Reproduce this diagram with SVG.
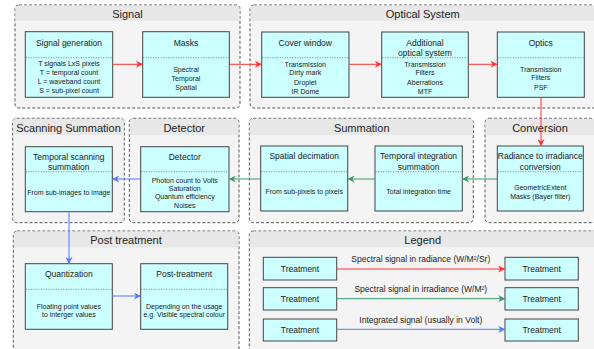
<svg xmlns="http://www.w3.org/2000/svg" width="594" height="349" viewBox="0 0 594 349">
<style>
text{font-family:"Liberation Sans",Arial,sans-serif;fill:#222;text-anchor:middle}
.gt{font-size:11px}
.bt{font-size:8.5px}
.bd{font-size:7px}
.lg{font-size:8.5px}
.grp{fill:#f4f4f4;stroke:#555;stroke-width:1;stroke-dasharray:3,2}
.hdr{fill:#e8e8e8}
.box{fill:#ccffff;stroke:#444;stroke-width:1}
.div{stroke:#666;stroke-width:0.8;stroke-dasharray:1,1.5}
.r{stroke:#ff3333;stroke-width:1;fill:none;marker-end:url(#ar)}
.g{stroke:#3a9a6a;stroke-width:1;fill:none;marker-end:url(#ag)}
.b{stroke:#4d7cff;stroke-width:1;fill:none;marker-end:url(#ab)}
</style>
<defs>
<marker id="ar" viewBox="0 0 10 10" refX="9" refY="5" markerWidth="7" markerHeight="7" markerUnits="userSpaceOnUse" orient="auto"><path d="M0,0 L10,5 L0,10 L3,5 Z" fill="#ff3333"/></marker>
<marker id="ag" viewBox="0 0 10 10" refX="9" refY="5" markerWidth="7" markerHeight="7" markerUnits="userSpaceOnUse" orient="auto"><path d="M0,0 L10,5 L0,10 L3,5 Z" fill="#3a9a6a"/></marker>
<marker id="ab" viewBox="0 0 10 10" refX="9" refY="5" markerWidth="7" markerHeight="7" markerUnits="userSpaceOnUse" orient="auto"><path d="M0,0 L10,5 L0,10 L3,5 Z" fill="#4d7cff"/></marker>
</defs>
<rect width="594" height="349" fill="#fff"/>

<g id="group-signal">
<rect class="grp" x="15" y="5" width="225" height="103" rx="4"/>
<path class="hdr" d="M15.5,9 Q15.5,5.5 19,5.5 H236 Q239.5,5.5 239.5,9 V21 H15.5 Z"/>
<text class="gt" x="127.5" y="18">Signal</text>
</g>
<g id="group-optical">
<rect class="grp" x="250" y="5" width="350" height="103" rx="4"/>
<path class="hdr" d="M250.5,9 Q250.5,5.5 254,5.5 H600 V21 H250.5 Z"/>
<text class="gt" x="422.7" y="18">Optical System</text>
</g>
<g id="group-scanning">
<rect class="grp" x="12.7" y="118.3" width="111.6" height="104.4" rx="4"/>
<path class="hdr" d="M13.2,122 Q13.2,118.8 16.5,118.8 H120.5 Q123.8,118.8 123.8,122 V135 H13.2 Z"/>
<text class="gt" x="68.5" y="131.5">Scanning Summation</text>
</g>
<g id="group-detector">
<rect class="grp" x="129.3" y="118.3" width="109.7" height="104.4" rx="4"/>
<path class="hdr" d="M129.8,122 Q129.8,118.8 133,118.8 H235 Q238.5,118.8 238.5,122 V135 H129.8 Z"/>
<text class="gt" x="184.2" y="131.5">Detector</text>
</g>
<g id="group-summation">
<rect class="grp" x="249.3" y="118.3" width="224" height="104.4" rx="4"/>
<path class="hdr" d="M249.8,122 Q249.8,118.8 253,118.8 H469.5 Q472.8,118.8 472.8,122 V135 H249.8 Z"/>
<text class="gt" x="361.7" y="131.5">Summation</text>
</g>
<g id="group-conversion">
<rect class="grp" x="485" y="118.3" width="120" height="104.4" rx="4"/>
<path class="hdr" d="M485.5,122 Q485.5,118.8 489,118.8 H605 V135 H485.5 Z"/>
<text class="gt" x="540" y="131.5">Conversion</text>
</g>
<g id="group-post">
<rect class="grp" x="13.3" y="231" width="225.7" height="130" rx="4"/>
<path class="hdr" d="M13.8,235 Q13.8,231.5 17,231.5 H235 Q238.5,231.5 238.5,235 V247.5 H13.8 Z"/>
<text class="gt" x="126" y="244">Post treatment</text>
</g>
<g id="group-legend">
<rect class="grp" x="249.3" y="231" width="360" height="130" rx="4"/>
<path class="hdr" d="M249.8,235 Q249.8,231.5 253,231.5 H609 V247 H249.8 Z"/>
<text class="gt" x="422.7" y="244">Legend</text>
</g>

<g id="signal-generation">
<rect class="box" x="25.3" y="31.7" width="87.4" height="65.6"/>
<line class="div" x1="25.8" y1="57.7" x2="112.2" y2="57.7"/>
<text class="bt" x="69" y="46">Signal generation</text>
<text class="bd" x="69" y="66">T signals LxS pixels</text>
<text class="bd" x="69" y="75">T = temporal count</text>
<text class="bd" x="69" y="84.3">L = waveband count</text>
<text class="bd" x="69" y="93.3">S = sub-pixel count</text>
</g>
<g id="masks">
<rect class="box" x="142.7" y="31.7" width="86.6" height="65.6"/>
<line class="div" x1="143.2" y1="57.7" x2="228.8" y2="57.7"/>
<text class="bt" x="186" y="46">Masks</text>
<text class="bd" x="186" y="72">Spectral</text>
<text class="bd" x="186" y="81">Temporal</text>
<text class="bd" x="186" y="90">Spatial</text>
</g>
<g id="cover-window">
<rect class="box" x="261.7" y="32" width="87.3" height="65.3"/>
<line class="div" x1="262.2" y1="57.7" x2="348.5" y2="57.7"/>
<text class="bt" x="305.3" y="45.7">Cover window</text>
<text class="bd" x="305.3" y="67">Transmission</text>
<text class="bd" x="305.3" y="75.3">Dirty mark</text>
<text class="bd" x="305.3" y="84.6">Droplet</text>
<text class="bd" x="305.3" y="93.6">IR Dome</text>
</g>
<g id="additional-optical-system">
<rect class="box" x="381.7" y="32" width="86.6" height="65.3"/>
<line class="div" x1="382.2" y1="57.7" x2="467.8" y2="57.7"/>
<text class="bt" x="425" y="45.7">Additional</text>
<text class="bt" x="425" y="55.7">optical system</text>
<text class="bd" x="425" y="67">Transmission</text>
<text class="bd" x="425" y="75.3">Filters</text>
<text class="bd" x="425" y="84.6">Aberrations</text>
<text class="bd" x="425" y="93.6">MTF</text>
</g>
<g id="optics">
<rect class="box" x="497.3" y="32" width="87" height="65.3"/>
<line class="div" x1="497.8" y1="57.7" x2="583.8" y2="57.7"/>
<text class="bt" x="540.8" y="45.7">Optics</text>
<text class="bd" x="540.8" y="72">Transmission</text>
<text class="bd" x="540.8" y="80.3">Filters</text>
<text class="bd" x="540.8" y="89.6">PSF</text>
</g>

<g id="temporal-scanning-summation">
<rect class="box" x="25.3" y="146.7" width="87" height="65"/>
<line class="div" x1="25.8" y1="171.7" x2="111.8" y2="171.7"/>
<text class="bt" x="68.8" y="159.7">Temporal scanning</text>
<text class="bt" x="68.8" y="170">summation</text>
<text class="bd" x="68.8" y="195.3">From sub-images to image</text>
</g>
<g id="detector">
<rect class="box" x="140.7" y="146.7" width="88.3" height="65"/>
<line class="div" x1="141.2" y1="171.7" x2="228.5" y2="171.7"/>
<text class="bt" x="184.8" y="159.7">Detector</text>
<text class="bd" x="184.8" y="182.6">Photon count to Volts</text>
<text class="bd" x="184.8" y="190.9">Saturation</text>
<text class="bd" x="184.8" y="199.3">Quantum efficiency</text>
<text class="bd" x="184.8" y="207.6">Noises</text>
</g>
<g id="spatial-decimation">
<rect class="box" x="260.7" y="146" width="87" height="65"/>
<line class="div" x1="261.2" y1="171.7" x2="347.2" y2="171.7"/>
<text class="bt" x="304.2" y="159">Spatial decimation</text>
<text class="bd" x="304.2" y="194.3">From sub-pixels to pixels</text>
</g>
<g id="temporal-integration-summation">
<rect class="box" x="375" y="146" width="87.3" height="65"/>
<line class="div" x1="375.5" y1="171.7" x2="461.8" y2="171.7"/>
<text class="bt" x="418.6" y="159">Temporal integration</text>
<text class="bt" x="418.6" y="170">summation</text>
<text class="bd" x="418.6" y="194.3">Total integration time</text>
</g>
<g id="radiance-to-irradiance-conversion">
<rect class="box" x="497.3" y="146" width="86" height="65"/>
<line class="div" x1="497.8" y1="171.7" x2="582.8" y2="171.7"/>
<text class="bt" x="540.3" y="159">Radiance to irradiance</text>
<text class="bt" x="540.3" y="170">conversion</text>
<text class="bd" x="540.3" y="190.3">GeometricExtent</text>
<text class="bd" x="540.3" y="199.3">Masks (Bayer filter)</text>
</g>

<g id="quantization">
<rect class="box" x="25.3" y="263.7" width="87" height="65.6"/>
<line class="div" x1="25.8" y1="289.3" x2="111.8" y2="289.3"/>
<text class="bt" x="68.8" y="277">Quantization</text>
<text class="bd" x="68.8" y="308.6">Floating point values</text>
<text class="bd" x="68.8" y="316.9">to interger values</text>
</g>
<g id="post-treatment">
<rect class="box" x="140.7" y="263.7" width="87" height="65.6"/>
<line class="div" x1="141.2" y1="289.3" x2="227.2" y2="289.3"/>
<text class="bt" x="184.2" y="277">Post-treatment</text>
<text class="bd" x="184.2" y="308.6">Depending on the usage</text>
<text class="bd" x="184.2" y="316.9">e.g. Visible spectral colour</text>
</g>

<g id="legend-treatment-1a"><rect class="box" x="263.3" y="257.3" width="73.4" height="22.7"/><text class="bt" x="300" y="271.8">Treatment</text></g>
<g id="legend-treatment-2a"><rect class="box" x="263.3" y="287.7" width="73.4" height="22.3"/><text class="bt" x="300" y="302">Treatment</text></g>
<g id="legend-treatment-3a"><rect class="box" x="263.3" y="319" width="73.4" height="22"/><text class="bt" x="300" y="333">Treatment</text></g>
<g id="legend-treatment-1b"><rect class="box" x="505" y="257.3" width="73.3" height="22.7"/><text class="bt" x="541.7" y="271.8">Treatment</text></g>
<g id="legend-treatment-2b"><rect class="box" x="505" y="287.7" width="73.3" height="22.3"/><text class="bt" x="541.7" y="302">Treatment</text></g>
<g id="legend-treatment-3b"><rect class="box" x="505" y="319" width="73.3" height="22"/><text class="bt" x="541.7" y="333">Treatment</text></g>

<g id="connectors">
<path class="r" d="M112.7,64.3 H142.2"/>
<path class="r" d="M229.3,64.3 H261.2"/>
<path class="r" d="M349,64.3 H381.2"/>
<path class="r" d="M468.3,64.3 H496.8"/>
<path class="r" d="M541,97.3 V145.5"/>
<path class="g" d="M497.3,179 H462.8"/>
<path class="g" d="M375,179 H348.2"/>
<path class="g" d="M260.7,179 H229.5"/>
<path class="b" d="M140.7,179 H112.8"/>
<path class="b" d="M69,211.7 V263.2"/>
<path class="b" d="M112.3,296 H140.2"/>
<path class="r" d="M336.7,269 H504.5"/>
<path class="g" d="M336.7,298.7 H504.5"/>
<path class="b" d="M336.7,329.3 H504.5"/>
<text class="lg" x="420.8" y="262">Spectral signal in radiance (W/M²/Sr)</text>
<text class="lg" x="420.8" y="292">Spectral signal in irradiance (W/M²)</text>
<text class="lg" x="420.8" y="322.5">Integrated signal (usually in Volt)</text>
</g>
</svg>
